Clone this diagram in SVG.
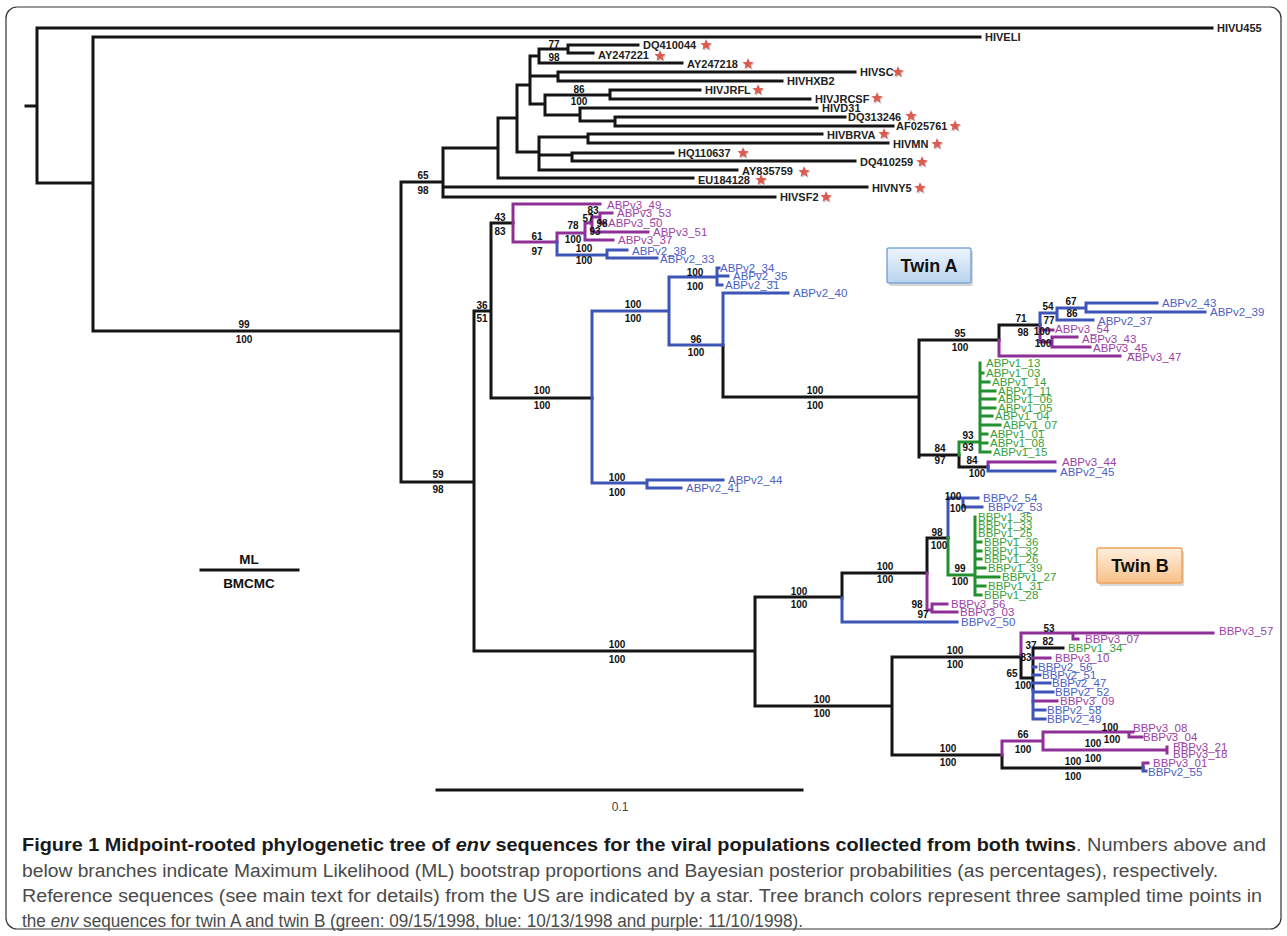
<svg xmlns="http://www.w3.org/2000/svg" width="1287" height="936" viewBox="0 0 1287 936">
<style>
.k{fill:none;stroke:#151515;stroke-width:3;stroke-linecap:square}
.p{fill:none;stroke:#8f2f98;stroke-width:3;stroke-linecap:square}
.b{fill:none;stroke:#3d55b6;stroke-width:3;stroke-linecap:square}
.g{fill:none;stroke:#22902f;stroke-width:3;stroke-linecap:square}
text{font-family:"Liberation Sans",Arial,sans-serif}
.s{font-size:10px;font-weight:bold;fill:#111;text-anchor:middle}
.r{font-size:11px;font-weight:bold;fill:#222}
.tp{font-size:11.5px;fill:#9b42a3}
.tb{font-size:11.5px;fill:#4b5fc4}
.tg{font-size:11.5px;fill:#36a03c}
.cap{font-size:18px;fill:#4a4a4a}
.cb{font-weight:bold;fill:#1a1a1a}
.box{font-size:18px;font-weight:bold;fill:#111;text-anchor:middle}
.key{font-size:13.5px;font-weight:bold;fill:#111;text-anchor:middle}
.shadow{fill:#bdbdbd;opacity:0.6}
</style>
<defs>
<path id="star0" d="M0,-6 L1.53,-2.1 L5.71,-1.85 L2.47,0.8 L3.53,4.85 L0,2.6 L-3.53,4.85 L-2.47,0.8 L-5.71,-1.85 L-1.53,-2.1 Z"/>
<g id="star"><use href="#star0" x="1" y="1.2" fill="#c8c8c8"/><use href="#star0" fill="#dc5a4e"/></g>
<linearGradient id="ga" x1="0" y1="0" x2="0" y2="1"><stop offset="0" stop-color="#eef5fd"/><stop offset="1" stop-color="#b9d3ee"/></linearGradient>
<linearGradient id="gb" x1="0" y1="0" x2="0" y2="1"><stop offset="0" stop-color="#fff0e0"/><stop offset="1" stop-color="#f8c088"/></linearGradient>
</defs>
<rect x="6" y="7" width="1275" height="922" rx="11" fill="#fff" stroke="#333" stroke-width="1.2"/>

<g id="connectors">
<path class="k" d="M26 106H37 M37 28V183 M37 28H1212 M37 183H93 M93 37V331 M93 37H980 M93 331H401 M401 182V482 M401 182H443 M443 148V197 M443 148H498 M443 187H867 M443 197H775 M498 118V178 M498 178H693 M498 118H517 M517 85V152 M517 85H530 M530 56V104 M530 56H539 M539 49V63 M539 49H568 M568 45V53 M568 45H638 M568 53H593 M539 63H682 M530 76H558 M558 72V81 M558 72H855 M558 81H782 M530 104H545 M545 95V115 M545 95H610 M610 90V99 M610 90H700 M610 99H810 M545 115H580 M580 108V121 M580 108H817 M580 121H615 M615 117V126 M615 117H845 M615 126H893 M517 152H539 M539 137V170 M539 137H588 M588 134V143 M588 134H822 M588 143H888 M539 155H572 M572 153V161 M572 153H673 M572 161H855 M539 170H737 M401 482H474 M474 311V651 M474 311H491 M491 223V398 M491 223H513 M491 398H592 M474 651H755 M755 597V706 M755 597H842 M842 573V598 M842 573H927 M927 538V573 M927 538H948 M755 706H892 M892 657V755 M892 657H1021 M892 755H1002 M1002 755V768 M1002 768H1143 M1021 655V678 M1021 678H1033 M1033 648V690 M1033 648H1063 M723 345V397 M723 397H919 M919 340V457 M919 340H999 M999 325V340 M999 325H1040 M919 455H959 M959 455V467 M959 467H988"/>
<path class="p" d="M513 204V242 M513 204H600 M513 242H557 M557 233V242 M557 233H585 M585 223V240 M585 240H613 M585 223H592 M592 217V232 M592 232H648 M592 217H600 M600 213V223 M600 213H612 M600 223H605 M999 340V356 M999 356H1120 M1040 325V342 M1040 330H1053 M1040 342H1052 M1052 337V347 M1052 337H1077 M1052 347H1090 M988 462V467 M988 462H1055 M927 573V610 M927 610H932 M932 604V612 M932 604H947 M932 612H957 M1021 633V655 M1021 633H1073 M1073 633V639 M1073 633H1213 M1073 639H1078 M1033 658H1050 M1033 701H1057 M1002 741V755 M1002 741H1043 M1043 732V750 M1043 732H1129 M1129 732V737 M1129 732H1133 M1129 737H1142 M1043 750H1167 M1167 747V753 M1143 763V767 M1143 763H1148"/>
<path class="b" d="M557 242V255 M557 255H607 M607 250V258 M607 250H627 M607 258H657 M592 311V483 M592 311H669 M669 277V345 M669 277H717 M717 268V285 M717 268H719 M717 276H728 M717 285H722 M669 345H723 M723 293V345 M723 293H788 M592 483H647 M647 480V488 M647 480H723 M647 488H681 M1040 313V325 M1040 313H1057 M1057 308V320 M1057 308H1086 M1086 303V312 M1086 303H1157 M1086 312H1205 M1057 320H1093 M988 467V471 M988 471H1055 M842 598V622 M842 622H957 M948 498V538 M948 498H963 M963 498V507 M963 498H978 M963 507H982 M1033 690V719 M1033 667H1036 M1033 675H1040 M1033 683H1050 M1033 692H1053 M1033 710H1045 M1033 719H1045 M1143 767V771 M1143 771H1146"/>
<path class="g" d="M959 442V455 M959 442H980 M980 363V452 M980 373H983 M980 382H989 M980 391H995 M980 399H995 M980 408H995 M980 416H992 M980 425H1000 M980 434H987 M980 443H987 M980 452H990 M948 538V575 M948 575H975 M975 517V595 M975 542H981 M975 551H981 M975 559H981 M975 568H985 M975 577H999 M975 586H985 M975 595H981"/>
</g>

<g id="support-values">
<text class="s" x="554" y="48">77</text><text class="s" x="554" y="61">98</text>
<text class="s" x="579" y="93">86</text><text class="s" x="579" y="105">100</text>
<text class="s" x="423" y="179">65</text><text class="s" x="423" y="194">98</text>
<text class="s" x="244" y="328">99</text><text class="s" x="244" y="343">100</text>
<text class="s" x="500" y="221">43</text><text class="s" x="500" y="235">83</text>
<text class="s" x="537" y="240">61</text><text class="s" x="537" y="255">97</text>
<text class="s" x="573" y="229">78</text><text class="s" x="573" y="243">100</text>
<text class="s" x="584" y="252">100</text><text class="s" x="584" y="264">100</text>
<text class="s" x="593" y="214">83</text><text class="s" x="588" y="222">57</text><text class="s" x="602" y="227">98</text><text class="s" x="595" y="235">93</text>
<text class="s" x="482" y="309">36</text><text class="s" x="482" y="322">51</text>
<text class="s" x="633" y="308">100</text><text class="s" x="633" y="322">100</text>
<text class="s" x="695" y="276">100</text><text class="s" x="695" y="290">100</text>
<text class="s" x="696" y="343">96</text><text class="s" x="696" y="356">100</text>
<text class="s" x="542" y="394">100</text><text class="s" x="542" y="409">100</text>
<text class="s" x="815" y="394">100</text><text class="s" x="815" y="409">100</text>
<text class="s" x="438" y="478">59</text><text class="s" x="438" y="493">98</text>
<text class="s" x="617" y="481">100</text><text class="s" x="617" y="496">100</text>
<text class="s" x="960" y="337">95</text><text class="s" x="960" y="351">100</text>
<text class="s" x="1021" y="322">71</text><text class="s" x="1023" y="336">98</text>
<text class="s" x="1048" y="310">54</text><text class="s" x="1049" y="324">77</text>
<text class="s" x="1042" y="335">100</text><text class="s" x="1043" y="347">100</text>
<text class="s" x="1071" y="305">67</text><text class="s" x="1072" y="317">86</text>
<text class="s" x="940" y="452">84</text><text class="s" x="940" y="464">97</text>
<text class="s" x="968" y="439">93</text><text class="s" x="968" y="451">93</text>
<text class="s" x="972" y="464">84</text><text class="s" x="977" y="477">100</text>
<text class="s" x="617" y="648">100</text><text class="s" x="617" y="663">100</text>
<text class="s" x="799" y="595">100</text><text class="s" x="799" y="608">100</text>
<text class="s" x="885" y="570">100</text><text class="s" x="885" y="583">100</text>
<text class="s" x="937" y="536">98</text><text class="s" x="939" y="549">100</text>
<text class="s" x="953" y="500">100</text><text class="s" x="958" y="512">100</text>
<text class="s" x="960" y="572">99</text><text class="s" x="960" y="585">100</text>
<text class="s" x="917" y="608">98</text><text class="s" x="923" y="618">97</text>
<text class="s" x="822" y="703">100</text><text class="s" x="822" y="717">100</text>
<text class="s" x="955" y="654">100</text><text class="s" x="955" y="668">100</text>
<text class="s" x="1049" y="632">53</text><text class="s" x="1048" y="645">82</text>
<text class="s" x="1031" y="649">37</text><text class="s" x="1026" y="661">83</text><text class="s" x="1012" y="677">65</text><text class="s" x="1023" y="689">100</text>
<text class="s" x="1023" y="738">66</text><text class="s" x="1023" y="753">100</text>
<text class="s" x="1110" y="731">100</text><text class="s" x="1112" y="743">100</text>
<text class="s" x="1093" y="747">100</text><text class="s" x="1093" y="762">100</text>
<text class="s" x="1073" y="765">100</text><text class="s" x="1073" y="780">100</text>
<text class="s" x="948" y="752">100</text><text class="s" x="948" y="766">100</text>
</g>

<g id="ref-HIVU455"><text class="r" x="1217" y="32">HIVU455</text></g>
<g id="ref-HIVELI"><text class="r" x="985" y="41">HIVELI</text></g>
<g id="ref-DQ410044"><text class="r" x="643" y="49">DQ410044</text><use href="#star" x="706" y="45"/></g>
<g id="ref-AY247221"><text class="r" x="598" y="59">AY247221</text><use href="#star" x="660" y="56"/></g>
<g id="ref-AY247218"><text class="r" x="687" y="68">AY247218</text><use href="#star" x="748" y="64"/></g>
<g id="ref-HIVSC"><text class="r" x="860" y="76">HIVSC</text><use href="#star" x="898" y="72"/></g>
<g id="ref-HIVHXB2"><text class="r" x="787" y="85">HIVHXB2</text></g>
<g id="ref-HIVJRFL"><text class="r" x="705" y="94">HIVJRFL</text><use href="#star" x="758" y="90"/></g>
<g id="ref-HIVJRCSF"><text class="r" x="815" y="103">HIVJRCSF</text><use href="#star" x="877" y="98"/></g>
<g id="ref-HIVD31"><text class="r" x="822" y="112">HIVD31</text></g>
<g id="ref-DQ313246"><text class="r" x="848" y="121">DQ313246</text><use href="#star" x="911" y="116"/></g>
<g id="ref-AF025761"><text class="r" x="896" y="130">AF025761</text><use href="#star" x="955" y="126"/></g>
<g id="ref-HIVBRVA"><text class="r" x="827" y="139">HIVBRVA</text><use href="#star" x="884" y="134"/></g>
<g id="ref-HIVMN"><text class="r" x="893" y="148">HIVMN</text><use href="#star" x="937" y="144"/></g>
<g id="ref-HQ110637"><text class="r" x="678" y="157">HQ110637</text><use href="#star" x="743" y="153"/></g>
<g id="ref-DQ410259"><text class="r" x="860" y="166">DQ410259</text><use href="#star" x="922" y="162"/></g>
<g id="ref-AY835759"><text class="r" x="742" y="175">AY835759</text><use href="#star" x="804" y="172"/></g>
<g id="ref-EU184128"><text class="r" x="698" y="184">EU184128</text><use href="#star" x="761" y="180"/></g>
<g id="ref-HIVNY5"><text class="r" x="872" y="192">HIVNY5</text><use href="#star" x="920" y="188"/></g>
<g id="ref-HIVSF2"><text class="r" x="780" y="201">HIVSF2</text><use href="#star" x="826" y="197"/></g>

<g id="twinA-v3a">
<text class="tp" x="607" y="209">ABPv3_49</text>
<text class="tp" x="617" y="217">ABPv3_53</text>
<text class="tp" x="608" y="227">ABPv3_50</text>
<text class="tp" x="653" y="236">ABPv3_51</text>
<text class="tp" x="618" y="244">ABPv3_37</text>
</g>
<g id="twinA-v2a">
<text class="tb" x="632" y="255">ABPv2_38</text>
<text class="tb" x="660" y="263">ABPv2_33</text>
<text class="tb" x="720" y="272">ABPv2_34</text>
<text class="tb" x="733" y="280">ABPv2_35</text>
<text class="tb" x="725" y="289">ABPv2_31</text>
<text class="tb" x="793" y="297">ABPv2_40</text>
<text class="tb" x="728" y="484">ABPv2_44</text>
<text class="tb" x="686" y="492">ABPv2_41</text>
</g>
<g id="twinA-right">
<text class="tb" x="1162" y="307">ABPv2_43</text>
<text class="tb" x="1210" y="316">ABPv2_39</text>
<text class="tb" x="1098" y="325">ABPv2_37</text>
<text class="tp" x="1055" y="333">ABPv3_54</text>
<text class="tp" x="1082" y="343">ABPv3_43</text>
<text class="tp" x="1093" y="352">ABPv3_45</text>
<text class="tp" x="1127" y="361">ABPv3_47</text>
<text class="tp" x="1062" y="466">ABPv3_44</text>
<text class="tb" x="1060" y="476">ABPv2_45</text>
</g>
<g id="twinA-v1">
<text class="tg" x="986" y="367">ABPv1_13</text>
<text class="tg" x="986" y="377">ABPv1_03</text>
<text class="tg" x="992" y="386">ABPv1_14</text>
<text class="tg" x="998" y="395">ABPv1_11</text>
<text class="tg" x="998" y="403">ABPv1_06</text>
<text class="tg" x="998" y="412">ABPv1_05</text>
<text class="tg" x="995" y="420">ABPv1_04</text>
<text class="tg" x="1003" y="429">ABPv1_07</text>
<text class="tg" x="990" y="438">ABPv1_01</text>
<text class="tg" x="990" y="447">ABPv1_08</text>
<text class="tg" x="993" y="456">ABPv1_15</text>
</g>
<g id="twinB-upper">
<text class="tb" x="983" y="502">BBPv2_54</text>
<text class="tb" x="988" y="511">BBPv2_53</text>
<text class="tg" x="978" y="521">BBPv1_35</text>
<text class="tg" x="978" y="529">BBPv1_33</text>
<text class="tg" x="978" y="537">BBPv1_25</text>
<text class="tg" x="984" y="546">BBPv1_36</text>
<text class="tg" x="984" y="555">BBPv1_32</text>
<text class="tg" x="984" y="563">BBPv1_26</text>
<text class="tg" x="988" y="572">BBPv1_39</text>
<text class="tg" x="1002" y="581">BBPv1_27</text>
<text class="tg" x="988" y="590">BBPv1_31</text>
<text class="tg" x="984" y="599">BBPv1_28</text>
<text class="tp" x="951" y="608">BBPv3_56</text>
<text class="tp" x="960" y="616">BBPv3_03</text>
<text class="tb" x="961" y="626">BBPv2_50</text>
</g>
<g id="twinB-lower">
<text class="tp" x="1219" y="635">BBPv3_57</text>
<text class="tp" x="1085" y="643">BBPv3_07</text>
<text class="tg" x="1068" y="652">BBPv1_34</text>
<text class="tp" x="1055" y="662">BBPv3_10</text>
<text class="tb" x="1038" y="671">BBPv2_56</text>
<text class="tb" x="1042" y="679">BBPv2_51</text>
<text class="tb" x="1052" y="687">BBPv2_47</text>
<text class="tb" x="1055" y="696">BBPv2_52</text>
<text class="tp" x="1060" y="705">BBPv3_09</text>
<text class="tb" x="1047" y="714">BBPv2_58</text>
<text class="tb" x="1047" y="723">BBPv2_49</text>
<text class="tp" x="1133" y="732">BBPv3_08</text>
<text class="tp" x="1143" y="741">BBPv3_04</text>
<text class="tp" x="1173" y="751">BBPv3_21</text>
<text class="tp" x="1173" y="758">BBPv3_18</text>
<text class="tp" x="1153" y="767">BBPv3_01</text>
<text class="tb" x="1148" y="776">BBPv2_55</text>
</g>

<g id="twinA-box"><rect class="shadow" x="889" y="251" width="84" height="35" rx="2"/><rect x="887" y="248" width="84" height="35" rx="2" fill="url(#ga)" stroke="#7ea6d6" stroke-width="1.5"/><text class="box" x="929" y="272">Twin A</text></g>
<g id="twinB-box"><rect class="shadow" x="1099" y="551" width="85" height="35" rx="2"/><rect x="1097" y="548" width="85" height="35" rx="2" fill="url(#gb)" stroke="#f0a35a" stroke-width="1.5"/><text class="box" x="1140" y="572">Twin B</text></g>

<g id="key">
<text class="key" x="249" y="564">ML</text>
<path class="k" d="M201 570H298"/>
<text class="key" x="249" y="588">BMCMC</text>
</g>
<g id="scale-bar">
<path class="k" d="M437 790H802"/>
<text x="620" y="811" font-size="12" fill="#444" text-anchor="middle">0.1</text>
</g>

<g id="caption">
<text class="cap" x="22" y="851" textLength="1244" lengthAdjust="spacingAndGlyphs"><tspan class="cb">Figure 1 Midpoint-rooted phylogenetic tree of </tspan><tspan class="cb" font-style="italic">env</tspan><tspan class="cb"> sequences for the viral populations collected from both twins</tspan>. Numbers above and</text>
<text class="cap" x="22" y="877" textLength="1196" lengthAdjust="spacingAndGlyphs">below branches indicate Maximum Likelihood (ML) bootstrap proportions and Bayesian posterior probabilities (as percentages), respectively.</text>
<text class="cap" x="22" y="902" textLength="1240" lengthAdjust="spacingAndGlyphs">Reference sequences (see main text for details) from the US are indicated by a star. Tree branch colors represent three sampled time points in</text>
<text class="cap" x="22" y="927" textLength="781" lengthAdjust="spacingAndGlyphs">the <tspan font-style="italic">env</tspan> sequences for twin A and twin B (green: 09/15/1998, blue: 10/13/1998 and purple: 11/10/1998).</text>
</g>
</svg>
